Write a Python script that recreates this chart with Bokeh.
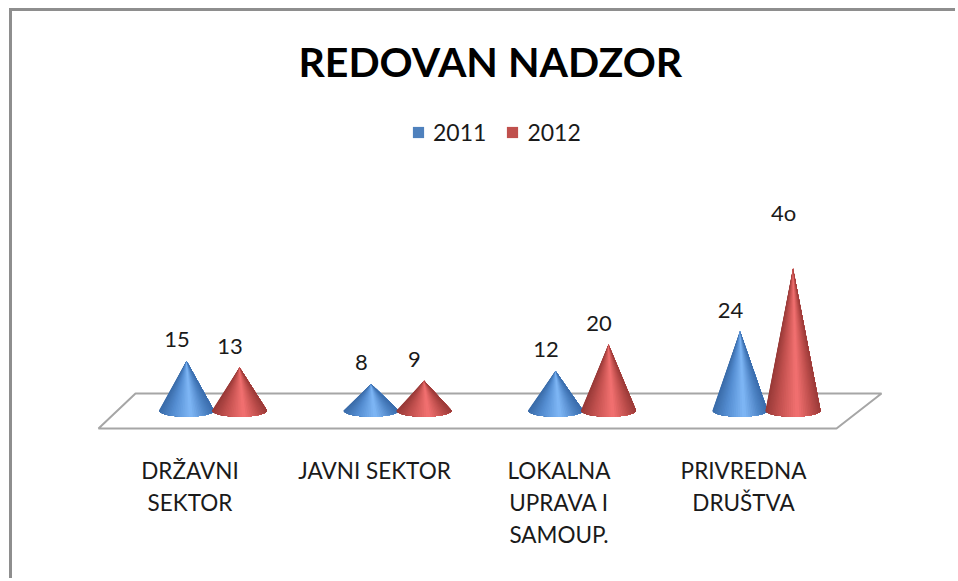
from bokeh.plotting import figure
from bokeh.models import Legend, LegendItem, Title
from bokeh.core.properties import value
from bokeh.embed import file_html
from bokeh.resources import INLINE
import numpy as np

categories = ["DRŽAVNI\nSEKTOR", "JAVNI SEKTOR", "LOKALNA\nUPRAVA I\nSAMOUP.", "PRIVREDNA\nDRUŠTVA"]
series_2011 = [15, 8, 12, 24]
series_2012 = [13, 9, 20, 43]          # drawn height of the last cone
labels_2011 = ["15", "8", "12", "24"]
labels_2012 = ["13", "9", "20", "4o"]  # the reference's label is literally "4o"

W, H = 946, 570
MARGIN_L, MARGIN_T, BORDER = 9, 8, 3
TOP_SPACE = 90
FRAME_L = MARGIN_L + BORDER
FRAME_T = MARGIN_T + BORDER + TOP_SPACE
FRAME_B = MARGIN_T + BORDER + H
GROUP_PX = 184.5
UNIT_PX = 3.3
X0, Y0 = 212.5, 410      # page pixel of group 0 / of value 0

def X(px): return (px - X0) / GROUP_PX
def Y(py): return (Y0 - py) / UNIT_PX

p = figure(width=W, height=H, output_backend="svg", toolbar_location=None,
           x_range=(X(FRAME_L), X(FRAME_L + W)), y_range=(Y(FRAME_B), Y(FRAME_T)),
           min_border=0, min_border_top=TOP_SPACE, outline_line_color=None, background_fill_color="white")
p.axis.visible = False
p.grid.visible = False
p.styles = {"border-top": f"{BORDER}px solid #8e8e8e", "border-left": f"{BORDER}px solid #8e8e8e",
            "margin-left": f"{MARGIN_L}px", "margin-top": f"{MARGIN_T}px"}

p.title = Title(text="REDOVAN NADZOR", align="left", text_font="Lato", text_font_style="bold",
                text_font_size="41px", text_color="black", offset=286, standoff=31)

# floor of the 3-D chart
p.patch(X(np.array([98, 836, 881, 135])), Y(np.array([428, 428, 393, 393])),
        fill_color="white", line_color="#a6a6a6", line_width=2)

HALF_W = 27.5 / GROUP_PX
HALF_H = 6.3 / UNIT_PX
OFFSET = 26.5 / GROUP_PX
STOPS = np.array([0.0, 0.25, 0.58, 0.85, 1.0])
RAMPS = {
    "2011": [(0x3b, 0x6c, 0xa9), (0x55, 0x8e, 0xd2), (0x80, 0xb8, 0xf7), (0x4f, 0x85, 0xc6), (0x3c, 0x6e, 0xad)],
    "2012": [(0x98, 0x3a, 0x38), (0xc4, 0x52, 0x50), (0xf4, 0x72, 0x72), (0xbd, 0x4e, 0x4c), (0x9c, 0x3c, 0x3a)],
}
N = 40

def cones(values, shift, ramp):
    ramp = np.array(ramp, dtype=float)
    xs, ys, colors = [], [], []
    for i, v in enumerate(values):
        cx = i + shift
        for k in range(N):
            # painter's layers: tip plus the base arc from this slice to the right edge
            angles = np.linspace(np.pi * k / N, np.pi, N - k + 1)
            u = (1 - np.cos(np.pi * (k + 0.5) / N)) / 2
            c = [int(np.interp(u, STOPS, ramp[:, j])) for j in range(3)]
            xs.append(np.r_[cx, cx - HALF_W * np.cos(angles)].tolist())
            ys.append(np.r_[v, -HALF_H * np.sin(angles)].tolist())
            colors.append("#%02x%02x%02x" % tuple(c))
    return p.patches(xs, ys, fill_color=colors, line_color=None)

cones(series_2011, -OFFSET, RAMPS["2011"])
cones(series_2012, OFFSET, RAMPS["2012"])

LABEL_DX = -9.5 / GROUP_PX
LIFT = 6.4
EXTRA_2011 = [0, 0, 0, 0]
EXTRA_2012 = [0, 0, 0, 10.5]
font = value("Lato")
TEXT_COLOR = "#1a1a1a"

def labels(values, texts, shift, extra):
    p.text([i + shift + LABEL_DX for i in range(4)],
           [v + LIFT + e for v, e in zip(values, extra)], text=texts, text_font=font,
           text_font_size="22px", text_color=TEXT_COLOR, text_align="center", text_baseline="middle")

labels(series_2011, labels_2011, -OFFSET, EXTRA_2011)
labels(series_2012, labels_2012, OFFSET, EXTRA_2012)

CAT_DX = -23 / GROUP_PX
p.text([i + CAT_DX for i in range(4)], [Y(456)] * 4, text=categories, text_font=font,
       text_font_size="22.5px", text_color=TEXT_COLOR, text_align="center", text_baseline="top",
       text_line_height=1.2)

r11 = p.quad(left=[np.nan], right=[np.nan], top=[np.nan], bottom=[np.nan], fill_color="#4f81bd", line_color=None)
r12 = p.quad(left=[np.nan], right=[np.nan], top=[np.nan], bottom=[np.nan], fill_color="#c0504d", line_color=None)
legend = Legend(items=[LegendItem(label="2011", renderers=[r11]), LegendItem(label="2012", renderers=[r12])],
                orientation="horizontal", location=(399, 435), border_line_color=None,
                background_fill_alpha=0, glyph_width=14, glyph_height=14, label_standoff=8, spacing=19,
                padding=4, label_text_font="Lato", label_text_font_size="23px", label_text_color=TEXT_COLOR,
                margin=0)
p.add_layout(legend, "center")

open("out.html", "w").write(file_html(p, INLINE))
